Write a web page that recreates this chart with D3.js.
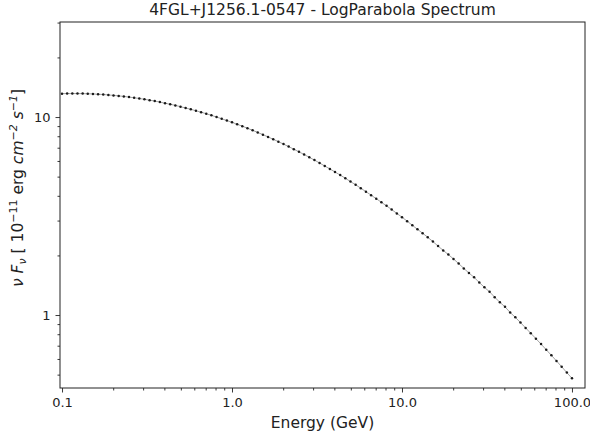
<!DOCTYPE html>
<html>
<head>
<meta charset="utf-8">
<script src="https://cdn.jsdelivr.net/npm/d3@7"></script>
<style>
  body { margin: 0; background: #fff; }
  svg { display: block; font-family: "DejaVu Sans", sans-serif; }
</style>
</head>
<body>
<svg id="chart" width="590" height="441"></svg>
<script>
// energies (GeV), 100 log-spaced points
var energy = [
  0.1, 0.1072, 0.115, 0.1233, 0.1322, 0.1417, 0.152, 0.163, 0.1748, 0.1874, 0.2009,
  0.2154, 0.231, 0.2477, 0.2656, 0.2848, 0.3054, 0.3275, 0.3511, 0.3765, 0.4037,
  0.4329, 0.4642, 0.4977, 0.5337, 0.5722, 0.6136, 0.6579, 0.7055, 0.7565, 0.8111,
  0.8697, 0.9326,
  1.0, 1.072, 1.15, 1.233, 1.322, 1.417, 1.52, 1.63, 1.748, 1.874, 2.009,
  2.154, 2.31, 2.477, 2.656, 2.848, 3.054, 3.275, 3.511, 3.765, 4.037,
  4.329, 4.642, 4.977, 5.337, 5.722, 6.136, 6.579, 7.055, 7.565, 8.111,
  8.697, 9.326,
  10.0, 10.72, 11.5, 12.33, 13.22, 14.17, 15.2, 16.3, 17.48, 18.74, 20.09,
  21.54, 23.1, 24.77, 26.56, 28.48, 30.54, 32.75, 35.11, 37.65, 40.37,
  43.29, 46.42, 49.77, 53.37, 57.22, 61.36, 65.79, 70.55, 75.65, 81.11,
  86.97, 93.26, 100.0
];

// nu F_nu in 1e-11 erg cm^-2 s^-1
var flux = [
  13.12, 13.14, 13.14, 13.14, 13.13, 13.11, 13.08, 13.04, 12.99, 12.93,
  12.86, 12.79, 12.71, 12.61, 12.51, 12.41, 12.29, 12.17, 12.04, 11.90,
  11.75, 11.60, 11.45, 11.28, 11.11, 10.94, 10.76, 10.58, 10.39, 10.20,
  10.00, 9.80, 9.60, 9.40, 9.19, 8.99, 8.78, 8.57, 8.36, 8.15,
  7.93, 7.72, 7.51, 7.30, 7.09, 6.88, 6.67, 6.47, 6.26, 6.06,
  5.86, 5.66, 5.47, 5.28, 5.09, 4.91, 4.72, 4.55, 4.37, 4.20,
  4.03, 3.87, 3.71, 3.56, 3.41, 3.26, 3.12, 2.98, 2.84, 2.71,
  2.59, 2.47, 2.35, 2.23, 2.12, 2.02, 1.92, 1.82, 1.72, 1.63,
  1.55, 1.46, 1.38, 1.31, 1.23, 1.16, 1.10, 1.03, 0.974, 0.916,
  0.861, 0.809, 0.760, 0.713, 0.668, 0.626, 0.586, 0.548, 0.512, 0.479
];

var xTicks = [0.1, 1, 10, 100];
var xTickLabels = ["0.1", "1.0", "10.0", "100.0"];
var xMinor = [0.2, 0.3, 0.4, 0.5, 0.6, 0.7, 0.8, 0.9,
              2, 3, 4, 5, 6, 7, 8, 9,
              20, 30, 40, 50, 60, 70, 80, 90];
var yTicks = [1, 10];
var yTickLabels = ["1", "10"];
var yMinor = [0.5, 0.6, 0.7, 0.8, 0.9, 2, 3, 4, 5, 6, 7, 8, 9, 20, 30];

var title = "4FGL+J1256.1-0547 - LogParabola Spectrum";
var xTitle = "Energy (GeV)";

var margin = {top: 22, right: 5, bottom: 53, left: 60},
    W = 590, H = 441,
    w = W - margin.left - margin.right,
    h = H - margin.top - margin.bottom;

var svg = d3.select("#chart");
var g = svg.append("g").attr("transform", "translate(" + margin.left + "," + margin.top + ")");

var x = d3.scaleLog().domain([0.0973, 119.3]).range([0, w]);
var y = d3.scaleLog().domain([0.428, 30.2]).range([h, 0]);

// line + dots
var line = d3.line().x(function(d, i) { return x(energy[i]); }).y(function(d) { return y(d); });
g.append("path")
  .datum(flux)
  .attr("d", line)
  .attr("fill", "none")
  .attr("stroke", "#8a8a8a")
  .attr("stroke-width", 0.8);

g.selectAll("circle.pt")
  .data(flux)
  .enter().append("circle")
  .attr("class", "pt")
  .attr("cx", function(d, i) { return x(energy[i]); })
  .attr("cy", function(d) { return y(d); })
  .attr("r", 1.25)
  .attr("fill", "#1a1a1a");

// axes
function styleAxis(sel) {
  sel.select(".domain").remove();
  sel.selectAll("line").attr("stroke", "#222").attr("stroke-width", 0.9);
  sel.selectAll("text").attr("fill", "#222").style("font-size", "13px")
    .style("font-family", "DejaVu Sans");
}

g.append("g")
  .attr("transform", "translate(0," + h + ")")
  .call(d3.axisBottom(x).tickValues(xMinor).tickSize(2.5).tickFormat(""))
  .call(styleAxis);
g.append("g")
  .attr("transform", "translate(0," + h + ")")
  .call(d3.axisBottom(x).tickValues(xTicks).tickSize(4.5).tickPadding(5)
    .tickFormat(function(d, i) { return xTickLabels[i]; }))
  .call(styleAxis);

g.append("g")
  .call(d3.axisLeft(y).tickValues(yMinor).tickSize(2.5).tickFormat(""))
  .call(styleAxis);
g.append("g")
  .call(d3.axisLeft(y).tickValues(yTicks).tickSize(4.5).tickPadding(5)
    .tickFormat(function(d, i) { return yTickLabels[i]; }))
  .call(styleAxis);

// frame
g.append("rect")
  .attr("width", w).attr("height", h)
  .attr("fill", "none")
  .attr("stroke", "#222")
  .attr("stroke-width", 1);

// title
svg.append("text")
  .attr("x", margin.left + w / 2).attr("y", 15)
  .attr("text-anchor", "middle")
  .attr("fill", "#222")
  .style("font-size", "15.5px")
  .text(title);

// x label
svg.append("text")
  .attr("x", margin.left + w / 2).attr("y", 428)
  .attr("text-anchor", "middle")
  .attr("fill", "#222")
  .style("font-size", "15.5px")
  .text(xTitle);

// y label with math bits
var yl = svg.append("text")
  .attr("transform", "translate(23,188) rotate(-90)")
  .attr("text-anchor", "middle")
  .attr("fill", "#222")
  .style("font-size", "15.5px");
yl.append("tspan").style("font-style", "italic").text("ν F");
yl.append("tspan").style("font-style", "italic").style("font-size", "11px").attr("dy", 3).text("ν");
yl.append("tspan").attr("dy", -3).text(" [ 10");
yl.append("tspan").style("font-size", "11px").attr("dy", -6).text("−11");
yl.append("tspan").attr("dy", 6).text(" erg ");
yl.append("tspan").style("font-style", "italic").text("cm");
yl.append("tspan").style("font-style", "italic").style("font-size", "11px").attr("dy", -6).text("−2");
yl.append("tspan").style("font-style", "italic").attr("dy", 6).text(" s");
yl.append("tspan").style("font-style", "italic").style("font-size", "11px").attr("dy", -6).text("−1");
yl.append("tspan").attr("dy", 6).text("]");
</script>
</body>
</html>
